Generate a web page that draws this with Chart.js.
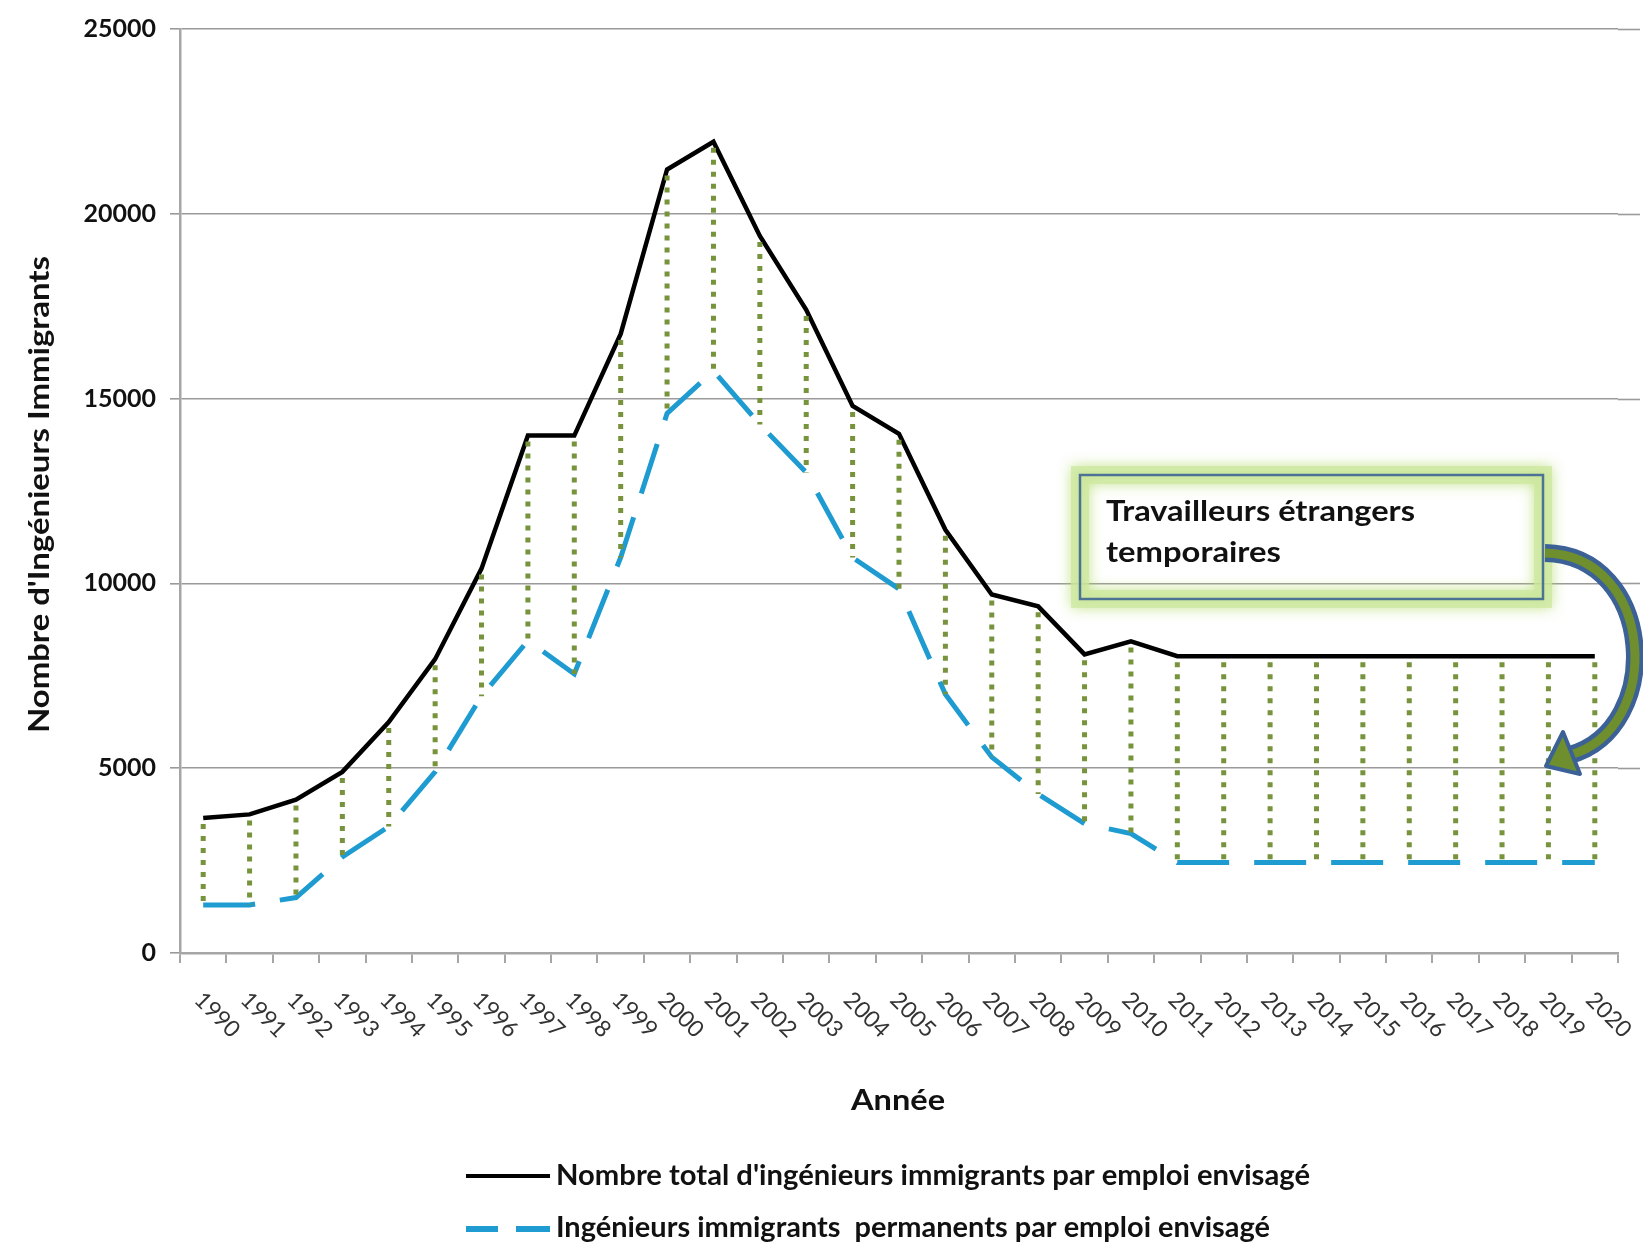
<!DOCTYPE html>
<html>
<head>
<meta charset="utf-8">
<script src="https://cdn.jsdelivr.net/npm/chart.js@4.4.1/dist/chart.umd.min.js"></script>
<style>
  html, body { margin: 0; padding: 0; background: #fff; }
  canvas { display: block; }
</style>
</head>
<body>
<canvas id="chart" width="1643" height="1246"></canvas>
<script>
// DATA
const years = ['1990', '1991', '1992', '1993', '1994', '1995', '1996', '1997', '1998', '1999',
	'2000', '2001', '2002', '2003', '2004', '2005', '2006', '2007', '2008', '2009',
	'2010', '2011', '2012', '2013', '2014', '2015', '2016', '2017', '2018', '2019', '2020'];

const totalEngineers = [3650, 3750, 4150, 4900, 6250, 7950, 10400, 14000, 14000, 16750,
	21200, 21950, 19400, 17400, 14800, 14050, 11450, 9700, 9380, 8080,
	8430, 8030, 8030, 8030, 8030, 8030, 8030, 8030, 8030, 8030, 8030];

const permanentEngineers = [1300, 1300, 1500, 2600, 3420, 4900, 6950, 8450, 7550, 10700,
	14600, 15750, 14300, 13000, 10700, 9850, 7000, 5300, 4300, 3500,
	3230, 2450, 2450, 2450, 2450, 2450, 2450, 2450, 2450, 2450, 2450];

const yTicks = [0, 5000, 10000, 15000, 20000, 25000];

const seriesNames = [
	"Nombre total d'ingénieurs immigrants par emploi envisagé",
	"Ingénieurs immigrants  permanents par emploi envisagé"
];
const yTitle = "Nombre d'Ingénieurs Immigrants";
const xTitle = 'Année';
const noteLines = ['Travailleurs étrangers', 'temporaires'];

const BLACK = '#000000';
const BLUE = '#1e9bd0';
const OLIVE = '#77933c';
const FONT = 'Lato, "Open Sans", sans-serif';

// DRAW TEXT SQUEEZED/STRETCHED TO A GIVEN WIDTH
function fitText(ctx, text, x, y, size, width) {
	ctx.font = 'bold ' + size + 'px ' + FONT;
	let w = ctx.measureText(text).width;
	ctx.save();
	ctx.translate(x, y);
	ctx.scale(width / w, 1);
	ctx.textAlign = 'left';
	ctx.textBaseline = 'middle';
	ctx.fillText(text, 0, 0);
	ctx.restore();
}

// EXTRA DRAWING: DOTTED GAPS, NOTE BOX, ARROW, LABELS, LEGEND
const decorPlugin = {
	id: 'decor',
	beforeDatasetsDraw(chart) {
		let ctx = chart.ctx;
		let area = chart.chartArea;
		let y = chart.scales.y;
		ctx.save();
		ctx.strokeStyle = '#9a9a9a';
		ctx.lineWidth = 1.6;
		for (let v of yTicks) {
			if (v == 0) continue;
			let py = Math.round(y.getPixelForValue(v)) + 0.5;
			ctx.beginPath();
			ctx.moveTo(area.right, py);
			ctx.lineTo(area.right + 22, py);
			ctx.stroke();
		}
		ctx.restore();
	},
	afterDatasetsDraw(chart) {
		let ctx = chart.ctx;
		let x = chart.scales.x;
		let y = chart.scales.y;

		// green dotted lines between the two series
		ctx.save();
		ctx.strokeStyle = OLIVE;
		ctx.lineWidth = 5;
		ctx.setLineDash([5, 7]);
		for (let i = 0; i < years.length; i++) {
			let px = x.getPixelForValue(i);
			ctx.beginPath();
			ctx.moveTo(px, y.getPixelForValue(totalEngineers[i]) + 6);
			ctx.lineTo(px, y.getPixelForValue(permanentEngineers[i]));
			ctx.stroke();
		}
		ctx.restore();
	},
	afterDraw(chart) {
		let ctx = chart.ctx;
		let x = chart.scales.x;
		let area = chart.chartArea;

		// note box with green glow
		ctx.save();
		ctx.shadowColor = 'rgba(170, 215, 90, 0.9)';
		ctx.shadowBlur = 14;
		ctx.strokeStyle = 'rgba(205, 232, 160, 0.75)';
		ctx.lineWidth = 18;
		ctx.strokeRect(1080, 475, 463, 124);
		ctx.shadowBlur = 0;
		ctx.strokeStyle = '#4d7394';
		ctx.lineWidth = 2.5;
		ctx.strokeRect(1080, 475, 463, 124);
		ctx.fillStyle = '#111';
		fitText(ctx, noteLines[0], 1106, 512, 28, 309);
		fitText(ctx, noteLines[1], 1106, 553, 28, 175);
		ctx.restore();

		// curved arrow
		ctx.save();
		ctx.lineCap = 'butt';
		ctx.beginPath();
		ctx.moveTo(1545, 553);
		ctx.bezierCurveTo(1655, 555, 1665, 728, 1570, 755);
		ctx.strokeStyle = '#3b6196';
		ctx.lineWidth = 18;
		ctx.stroke();
		ctx.strokeStyle = '#6f8f2e';
		ctx.lineWidth = 9;
		ctx.stroke();
		ctx.beginPath();
		ctx.moveTo(1546, 766);
		ctx.lineTo(1563, 732);
		ctx.lineTo(1580, 774);
		ctx.closePath();
		ctx.fillStyle = '#6f8f2e';
		ctx.fill();
		ctx.strokeStyle = '#3b6196';
		ctx.lineWidth = 4;
		ctx.lineJoin = 'round';
		ctx.stroke();
		ctx.restore();

		// x tick labels, rotated clockwise
		ctx.save();
		ctx.fillStyle = '#333333';
		ctx.font = '23px ' + FONT;
		ctx.textAlign = 'left';
		ctx.textBaseline = 'middle';
		for (let i = 0; i < years.length; i++) {
			let px = x.getPixelForValue(i);
			ctx.save();
			ctx.translate(px - 5, area.bottom + 43);
			ctx.rotate(Math.PI / 4);
			ctx.fillText(years[i], 0, 0);
			ctx.restore();
		}
		ctx.restore();

		// axis titles
		ctx.save();
		ctx.fillStyle = '#111';
		ctx.translate(40, 495);
		ctx.rotate(-Math.PI / 2);
		fitText(ctx, yTitle, -238, 0, 29, 477);
		ctx.restore();
		ctx.save();
		ctx.fillStyle = '#111';
		fitText(ctx, xTitle, 851, 1101, 28, 94);
		ctx.restore();

		// legend
		ctx.save();
		ctx.strokeStyle = BLACK;
		ctx.lineWidth = 4;
		ctx.beginPath();
		ctx.moveTo(466, 1176);
		ctx.lineTo(550, 1176);
		ctx.stroke();
		ctx.strokeStyle = BLUE;
		ctx.lineWidth = 6;
		ctx.beginPath();
		ctx.moveTo(466, 1229);
		ctx.lineTo(498, 1229);
		ctx.moveTo(516, 1229);
		ctx.lineTo(550, 1229);
		ctx.stroke();
		ctx.fillStyle = '#111';
		fitText(ctx, seriesNames[0], 556, 1176, 28, 754);
		fitText(ctx, seriesNames[1], 556, 1228, 28, 714);
		ctx.restore();
	}
};

const ctx = document.getElementById('chart');
new Chart(ctx, {
	type: 'line',
	data: {
		labels: years,
		datasets: [{
			label: seriesNames[0],
			data: totalEngineers,
			borderColor: BLACK,
			borderWidth: 4.5,
			pointRadius: 0,
			tension: 0,
		},
		{
			label: seriesNames[1],
			data: permanentEngineers,
			borderColor: BLUE,
			borderWidth: 5,
			borderDash: [52, 25],
			pointRadius: 0,
			tension: 0,
		}]
	},
	options: {
		responsive: false,
		animation: false,
		devicePixelRatio: 1,
		layout: {
			padding: { top: 23, right: 25, left: 0, bottom: 0 }
		},
		plugins: {
			legend: { display: false },
			tooltip: { enabled: false }
		},
		scales: {
			x: {
				offset: true,
				grid: {
					offset: true,
					drawOnChartArea: false,
					color: '#a6a6a6',
					lineWidth: 2,
					tickLength: 10
				},
				border: { color: '#a6a6a6', width: 2.5 },
				ticks: { display: false },
				afterFit: s => { s.height = 293; }
			},
			y: {
				min: yTicks[0],
				max: yTicks[yTicks.length - 1],
				ticks: {
					stepSize: 5000,
					color: '#111111',
					padding: 14,
					font: { family: FONT, size: 25, weight: 'bold' },
					callback: v => String(v)
				},
				grid: {
					color: '#9a9a9a',
					lineWidth: 1.6,
					tickLength: 10
				},
				border: { color: '#a6a6a6', width: 2.5 },
				afterFit: s => { s.width = 180; }
			}
		}
	},
	plugins: [decorPlugin]
});
</script>
</body>
</html>
